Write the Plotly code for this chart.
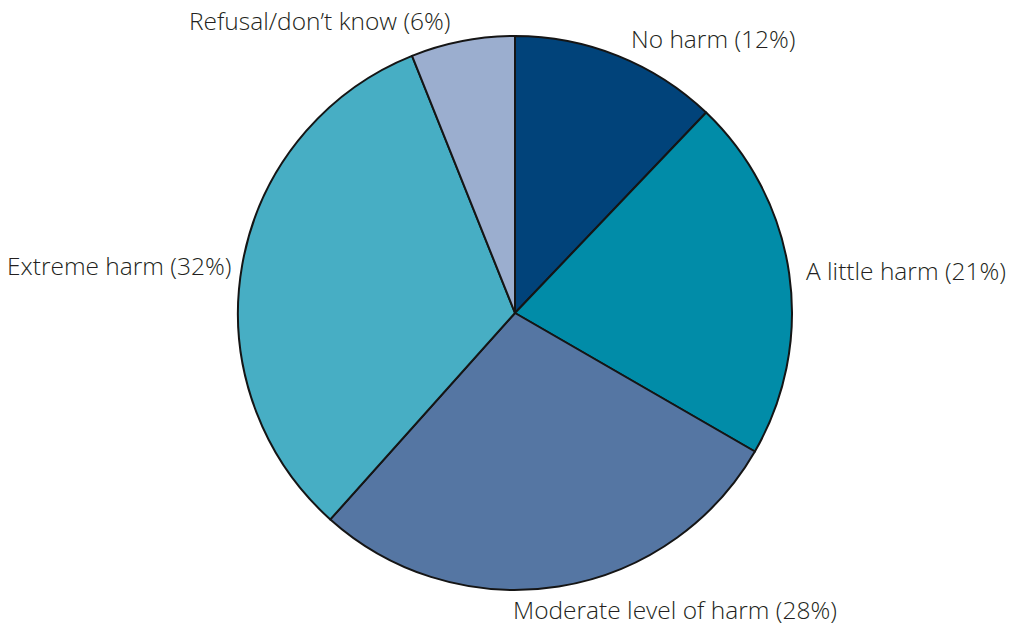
import plotly.graph_objects as go

# Survey responses: perceived level of harm
categories = ["No harm", "A little harm", "Moderate level of harm", "Extreme harm", "Refusal/don\u2019t know"]
shares = [12, 21, 28, 32, 6]
colors = ["#01437a", "#018ca8", "#5576a3", "#47aec4", "#9baecf"]

W, H = 1014, 627

# Label placement in pixels: (x, y, horizontal anchor)
label_pos = [
    (630, 39, "left"),
    (805, 270, "left"),
    (512, 609, "left"),
    (232, 265, "right"),
    (452, 21, "right"),
]

fig = go.Figure(
    go.Pie(
        labels=categories,
        values=shares,
        sort=False,
        direction="clockwise",
        rotation=0,
        textinfo="none",
        hoverinfo="label+value",
        marker=dict(colors=colors, line=dict(color="#151515", width=2)),
        domain=dict(x=[238 / W, 792 / W], y=[(H - 590) / H, (H - 36) / H]),
        showlegend=False,
    )
)

for cat, val, (px, py, anchor) in zip(categories, shares, label_pos):
    fig.add_annotation(
        x=px / W,
        y=1 - py / H,
        xref="paper",
        yref="paper",
        xanchor=anchor,
        yanchor="middle",
        text=f"{cat} ({val}%)",
        showarrow=False,
        borderpad=0,
        font=dict(family="Open Sans, sans-serif", size=24.5, color="#231f20", weight=300),
    )

fig.update_layout(
    width=W,
    height=H,
    margin=dict(l=0, r=0, t=0, b=0),
    paper_bgcolor="white",
    plot_bgcolor="white",
)

fig.write_html("out.html")
